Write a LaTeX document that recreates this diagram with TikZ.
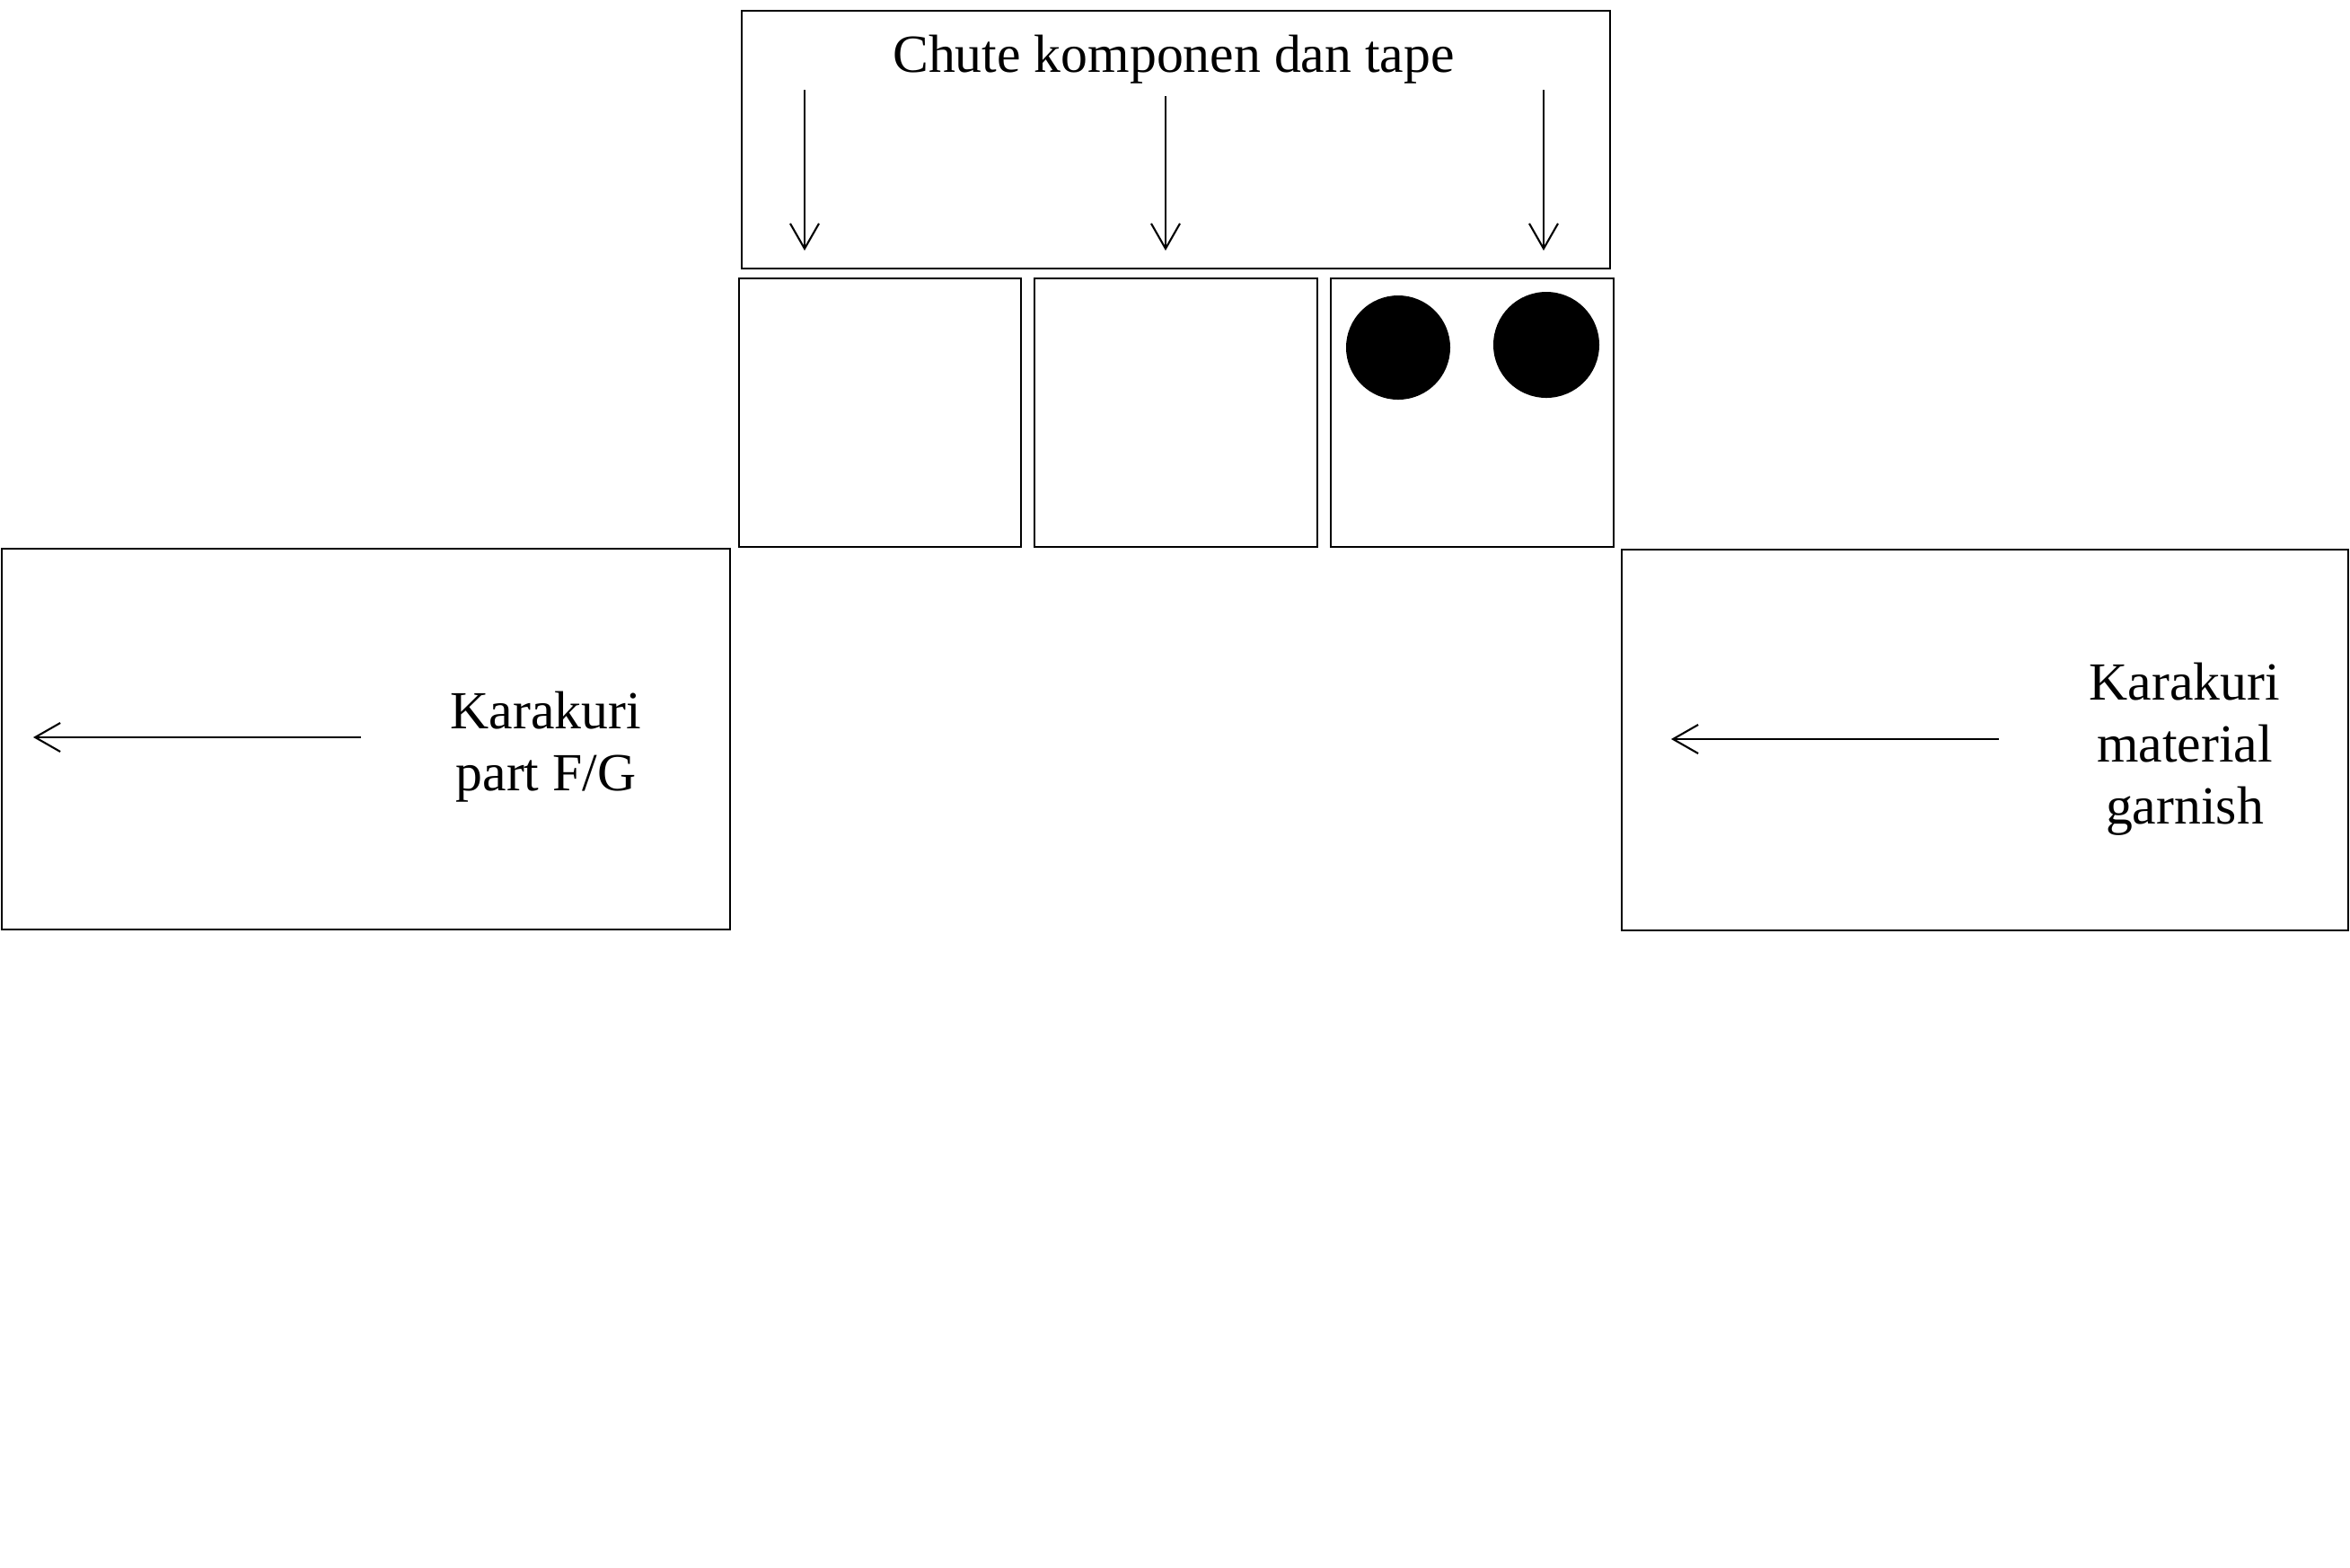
\documentclass[tikz,border=0pt]{standalone}
\usepackage{fontspec}
\setmainfont{Liberation Serif}
\usepackage{tikz}
\usetikzlibrary{arrows.meta}

\begin{document}
\begin{tikzpicture}[scale=1.0,>={Straight Barb[length=2.8mm,width=3.2mm]},
  font=\fontsize{17pt}{19.6pt}\selectfont]
\useasboundingbox (0,0) rectangle (26.17,-17.45);
% chute
\draw[line width=0.8pt] (8.26,-0.12) rectangle (17.93,-2.99);
\node[inner sep=0] (chute) at (13.07,-0.66) {Chute komponen dan tape};
\coordinate (c1a) at (8.96,-1.00);  \coordinate (c1b) at (8.96,-2.79);
\coordinate (c2a) at (12.98,-1.07); \coordinate (c2b) at (12.98,-2.79);
\coordinate (c3a) at (17.19,-1.00); \coordinate (c3b) at (17.19,-2.79);
\draw[->,line width=0.6pt] (c1a) -- (c1b);
\draw[->,line width=0.6pt] (c2a) -- (c2b);
\draw[->,line width=0.6pt] (c3a) -- (c3b);
% bins
\draw[line width=0.8pt] (8.23,-3.10) rectangle (11.37,-6.09);
\draw[line width=0.8pt] (11.52,-3.10) rectangle (14.67,-6.09);
\draw[line width=0.8pt] (14.82,-3.10) rectangle (17.97,-6.09);
\fill (15.57,-3.87) circle (0.58);
\fill (17.22,-3.84) circle (0.59);
% karakuri left
\draw[line width=0.8pt] (0.02,-6.11) rectangle (8.13,-10.35);
\node[align=center,inner sep=0] (partfg) at (6.08,-8.32) {Karakuri\\part F/G};
\coordinate (l1a) at (4.02,-8.21); \coordinate (l1b) at (0.37,-8.21);
\draw[->,line width=0.6pt] (l1a) -- (l1b);
% karakuri right
\draw[line width=0.8pt] (18.06,-6.12) rectangle (26.15,-10.36);
\node[align=center,inner sep=0] (garnish) at (24.33,-8.34) {Karakuri\\material\\garnish};
\coordinate (r1a) at (22.26,-8.23); \coordinate (r1b) at (18.61,-8.23);
\draw[->,line width=0.6pt] (r1a) -- (r1b);
\end{tikzpicture}
\end{document}
